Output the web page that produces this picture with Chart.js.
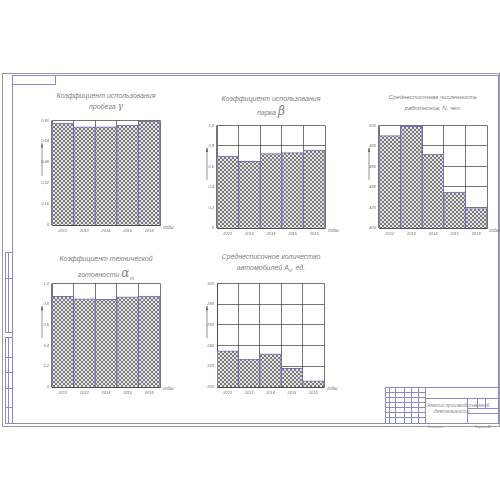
<!DOCTYPE html>
<html>
<head>
<meta charset="utf-8">
<script src="https://cdn.jsdelivr.net/npm/chart.js@4.4.0/dist/chart.umd.min.js"></script>
<style>
  html, body { margin: 0; padding: 0; background: #fff; }
  #sheet { position: relative; width: 500px; height: 500px; overflow: hidden; font-family: 'Liberation Sans', sans-serif; font-style: italic; color: #555; }
  .box { position: absolute; box-sizing: border-box; }
  .cv { position: absolute; }
  .ttl { position: absolute; width: 160px; text-align: center; font-size: 7px; white-space: nowrap; color: #808080; font-weight: 300; }
  .big { font-size: 12px; font-family: 'DejaVu Serif', serif; }
  .yr { position: absolute; font-size: 4.5px; color: #777; }
  .tiny { position: absolute; font-size: 3px; color: #888; white-space: nowrap; }
</style>
</head>
<body>
<div id="sheet">
  <!-- рамка листа -->
  <div class="box" style="left:2px;top:73px;width:498px;height:354px;border:1px solid #999;"></div>
  <div class="box" style="left:12px;top:75px;width:487px;height:349px;border:1px solid #8a8ac8;"></div>
  <div class="box" style="left:12px;top:75px;width:44px;height:10px;border:1px solid #8a8ac8;"></div>
  <div class="box" style="left:5px;top:252px;width:8px;height:81px;border:1px solid #8a8ac8;"></div>
  <div class="box" style="left:5px;top:278px;width:8px;height:1px;border-top:1px solid #8a8ac8;"></div>
  <div class="box" style="left:8px;top:252px;width:1px;height:81px;border-left:1px solid #8a8ac8;"></div>
  <div class="box" style="left:5px;top:337px;width:8px;height:87px;border:1px solid #8a8ac8;"></div>
  <div class="box" style="left:8px;top:337px;width:1px;height:87px;border-left:1px solid #8a8ac8;"></div>
  <div class="box" style="left:5px;top:357px;width:8px;border-top:1px solid #8a8ac8;"></div>
  <div class="box" style="left:5px;top:372px;width:8px;border-top:1px solid #8a8ac8;"></div>
  <div class="box" style="left:5px;top:388px;width:8px;border-top:1px solid #8a8ac8;"></div>
  <div class="box" style="left:5px;top:407px;width:8px;border-top:1px solid #8a8ac8;"></div>

  <!-- основная надпись -->
  <div class="box" style="left:385px;top:387px;width:114px;height:37px;border:1px solid #8a8ac8;"></div>
  <div class="box" style="left:425px;top:387px;height:37px;border-left:1px solid #8a8ac8;"></div>
  <div class="box" style="left:467px;top:398px;height:26px;border-left:1px solid #8a8ac8;"></div>
  <div class="box" style="left:477px;top:398px;height:10px;border-left:1px solid #8a8ac8;"></div>
  <div class="box" style="left:485px;top:398px;height:10px;border-left:1px solid #8a8ac8;"></div>
  <div class="box" style="left:425px;top:398px;width:74px;border-top:1px solid #8a8ac8;"></div>
  <div class="box" style="left:467px;top:408px;width:32px;border-top:1px solid #8a8ac8;"></div>
  <div class="box" style="left:467px;top:413px;width:32px;border-top:1px solid #8a8ac8;"></div>
  <div class="box" style="left:389px;top:387px;height:37px;border-left:1px solid #8a8ac8;"></div>
  <div class="box" style="left:395px;top:387px;height:37px;border-left:1px solid #8a8ac8;"></div>
  <div class="box" style="left:404px;top:387px;height:37px;border-left:1px solid #8a8ac8;"></div>
  <div class="box" style="left:411px;top:387px;height:37px;border-left:1px solid #8a8ac8;"></div>
  <div class="box" style="left:418px;top:387px;height:37px;border-left:1px solid #8a8ac8;"></div>
  <div class="box" style="left:385px;top:392px;width:40px;border-top:1px solid #8a8ac8;"></div>
  <div class="box" style="left:385px;top:397px;width:40px;border-top:1px solid #8a8ac8;"></div>
  <div class="box" style="left:385px;top:402px;width:40px;border-top:1px solid #8a8ac8;"></div>
  <div class="box" style="left:385px;top:407px;width:40px;border-top:1px solid #8a8ac8;"></div>
  <div class="box" style="left:385px;top:412px;width:40px;border-top:1px solid #8a8ac8;"></div>
  <div class="box" style="left:385px;top:417px;width:40px;border-top:1px solid #8a8ac8;"></div>
  <div class="tiny" style="left:427px;top:402px;font-size:5px;">Анализ производственной</div>
  <div class="tiny" style="left:434px;top:408px;font-size:5px;">деятельности</div>
  <div class="tiny" style="left:428px;top:425px;">Копировал</div>
  <div class="tiny" style="left:475px;top:425px;">Формат А1</div>

  <!-- заголовки диаграмм -->
  <div class="ttl" style="left:26px;top:90px;line-height:11px;">Коэффициент использования<br>пробега <span style="font-family:'DejaVu Serif',serif;font-size:9px;">γ</span></div>
  <div class="ttl" style="left:191px;top:92px;line-height:13px;">Коэффициент использования<br>парка <span class="big">β</span></div>
  <div class="ttl" style="left:353px;top:92px;line-height:11px;font-size:6px;">Среднесписочная численность<br>работников, N, чел.</div>
  <div class="ttl" style="left:26px;top:252px;line-height:14px;">Коэффициент технической<br>готовности <span class="big">α<sub style="font-size:5px;">т</sub></span></div>
  <div class="ttl" style="left:191px;top:251px;line-height:11px;">Среднесписочное количество<br>автомобилей  A<sub style="font-size:5px;">и</sub>, ед.</div>

  <div class="yr" style="left:163px;top:225px;">годы</div>
  <div class="yr" style="left:328px;top:228px;">годы</div>
  <div class="yr" style="left:489px;top:228px;">годы</div>
  <div class="yr" style="left:163px;top:386px;">годы</div>
  <div class="yr" style="left:327px;top:386px;">годы</div>

  <canvas id="c1" class="cv" style="left:30px;top:115px;" width="140" height="122"></canvas>
  <canvas id="c2" class="cv" style="left:195px;top:120px;" width="140" height="120"></canvas>
  <canvas id="c3" class="cv" style="left:357px;top:120px;" width="140" height="120"></canvas>
  <canvas id="c4" class="cv" style="left:30px;top:278px;" width="140" height="121"></canvas>
  <canvas id="c5" class="cv" style="left:195px;top:278px;" width="139" height="121"></canvas>
</div>

<script>
// данные
var years = ['2012', '2013', '2014', '2015', '2016'];

var gammaValues = [0.78, 0.75, 0.75, 0.765, 0.795];
var gammaTicks = [0, 0.16, 0.32, 0.48, 0.64, 0.80];
var gammaTickLabels = ['0', '0,16', '0,32', '0,48', '0,64', '0,80'];

var betaValues = [0.70, 0.65, 0.725, 0.735, 0.76];
var unitTicks = [0, 0.2, 0.4, 0.6, 0.8, 1.0];
var unitTickLabels = ['0', '0,2', '0,4', '0,6', '0,8', '1,0'];

var workersValues = [490, 499, 472, 435, 419];
var workersTicks = [400, 420, 440, 460, 480, 500];
var workersTickLabels = ['400', '420', '440', '460', '480', '500'];

var alphaValues = [0.875, 0.852, 0.846, 0.871, 0.877];

var carsValues = [235, 227, 232, 218, 206];
var carsTicks = [200, 220, 240, 260, 280, 300];
var carsTickLabels = ['200', '220', '240', '260', '280', '300'];

// штриховка столбцов
function hatchPattern() {
    var p = document.createElement('canvas');
    p.width = 4; p.height = 4;
    var g = p.getContext('2d');
    g.fillStyle = '#e4e4e4';
    g.fillRect(0, 0, 4, 4);
    g.fillStyle = '#7a7a7a';
    for (var i = 0; i < 4; i++) {
        g.fillRect(i, i, 1, 1);
        g.fillRect(3 - i, i, 1, 1);
    }
    return g.createPattern(p, 'repeat');
}
var hatch = hatchPattern();

// стрелка слева от оси
var arrowPlugin = {
    id: 'arrow',
    afterDraw: function(chart) {
        var a = chart.chartArea;
        var h = a.bottom - a.top;
        var x = a.left - 10;
        var y1 = a.top + 0.22 * h;
        var y2 = a.top + 0.53 * h;
        var ctx = chart.ctx;
        ctx.save();
        ctx.strokeStyle = '#666';
        ctx.fillStyle = '#666';
        ctx.lineWidth = 0.7;
        ctx.beginPath();
        ctx.moveTo(x, y2);
        ctx.lineTo(x, y1);
        ctx.stroke();
        ctx.beginPath();
        ctx.moveTo(x, y1 - 1);
        ctx.lineTo(x - 1.2, y1 + 4);
        ctx.lineTo(x + 1.2, y1 + 4);
        ctx.closePath();
        ctx.fill();
        ctx.restore();
    }
};

function makeChart(id, values, ticks, tickLabels) {
    var ctx = document.getElementById(id).getContext('2d');
    return new Chart(ctx, {
        type: 'bar',
        data: {
            labels: years,
            datasets: [{
                data: values,
                backgroundColor: hatch,
                borderColor: '#7272b8',
                borderWidth: 1,
                barPercentage: 1.0,
                categoryPercentage: 1.0
            }]
        },
        options: {
            responsive: false,
            animation: false,
            layout: { padding: { top: 3, right: 10, left: 0, bottom: 0 } },
            plugins: { legend: { display: false }, tooltip: { enabled: false } },
            scales: {
                x: {
                    grid: { color: '#3a3a3a', lineWidth: 0.7, offset: true, drawTicks: false },
                    border: { color: '#3a3a3a', width: 0.7 },
                    ticks: { color: '#777', padding: 3, font: { size: 4, style: 'italic', family: 'Liberation Sans' } },
                    afterFit: function(scale) { scale.height = 12; }
                },
                y: {
                    min: ticks[0],
                    max: ticks[ticks.length - 1],
                    z: 1,
                    grid: { color: '#3a3a3a', lineWidth: 0.7, drawTicks: false },
                    border: { color: '#3a3a3a', width: 0.7 },
                    afterBuildTicks: function(scale) {
                        scale.ticks = ticks.map(function(v) { return { value: v }; });
                    },
                    ticks: {
                        color: '#777',
                        padding: 3,
                        autoSkip: false,
                        font: { size: 4, style: 'italic', family: 'Liberation Sans' },
                        callback: function(value, index) { return tickLabels[index]; }
                    },
                    afterFit: function(scale) { scale.width = 22; }
                }
            }
        },
        plugins: [arrowPlugin]
    });
}

makeChart('c1', gammaValues, gammaTicks, gammaTickLabels);
makeChart('c2', betaValues, unitTicks, unitTickLabels);
makeChart('c3', workersValues, workersTicks, workersTickLabels);
makeChart('c4', alphaValues, unitTicks, unitTickLabels);
makeChart('c5', carsValues, carsTicks, carsTickLabels);
</script>
</body>
</html>
